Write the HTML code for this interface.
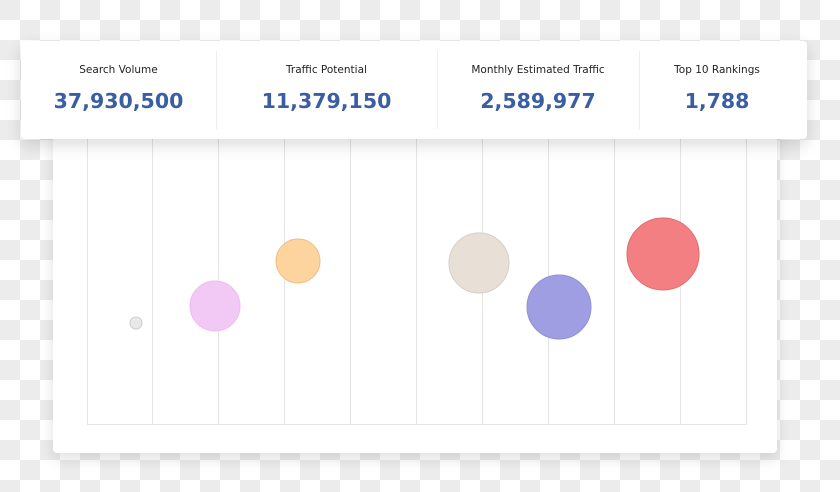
<!DOCTYPE html>
<html><head><style>
body{margin:0;width:840px;height:492px;overflow:hidden;position:relative;
background-color:#fff;
background-image:linear-gradient(45deg,#ececec 25%,transparent 25%,transparent 75%,#ececec 75%),linear-gradient(45deg,#ececec 25%,transparent 25%,transparent 75%,#ececec 75%);
background-size:40px 40px;background-position:20px 0,0 20px;
font-family:"DejaVu Sans","Liberation Sans",sans-serif;}
.chart{position:absolute;left:53px;top:120px;width:724px;height:333px;background:#fff;border-radius:4px;box-shadow:0 6px 14px rgba(0,0,0,0.12);}
.top{position:absolute;left:21px;top:41px;width:786px;height:98px;background:#fff;border-radius:4px;box-shadow:0 6px 16px rgba(0,0,0,0.14);}
.cell{position:absolute;top:0;height:98px;text-align:center;}
.lab{position:absolute;top:23px;left:0;right:0;font-size:10.5px;color:#222;}
.num{position:absolute;top:48px;left:0;right:0;font-size:20.5px;font-weight:bold;color:#3a5ea2;}
.div{position:absolute;top:10px;width:1px;height:78px;background:#eee;}
</style></head><body>
<div class="chart"></div>
<svg width="840" height="492" style="position:absolute;left:0;top:0">
<g stroke="#e4e4e4" stroke-width="1">
<line x1="87.5" y1="130" x2="87.5" y2="424"/><line x1="152.5" y1="130" x2="152.5" y2="424"/><line x1="218.5" y1="130" x2="218.5" y2="424"/><line x1="284.5" y1="130" x2="284.5" y2="424"/><line x1="350.5" y1="130" x2="350.5" y2="424"/><line x1="416.5" y1="130" x2="416.5" y2="424"/><line x1="482.5" y1="130" x2="482.5" y2="424"/><line x1="548.5" y1="130" x2="548.5" y2="424"/><line x1="614.5" y1="130" x2="614.5" y2="424"/><line x1="680.5" y1="130" x2="680.5" y2="424"/><line x1="746.5" y1="130" x2="746.5" y2="424"/>
<line x1="87" y1="424.5" x2="747" y2="424.5"/>
</g>
<circle cx="136" cy="323" r="6" fill="#e8e8e8" stroke="#ccc"/>
<circle cx="215" cy="306" r="25" fill="#f2c9f4" stroke="#ecbdee"/>
<circle cx="298" cy="261" r="22" fill="#fdd49e" stroke="#ecc08a"/>
<circle cx="479" cy="263" r="30" fill="#e8dfd6" stroke="#d8cdc2"/>
<circle cx="559" cy="307" r="32" fill="#a09ee3" stroke="#9290d6"/>
<circle cx="663" cy="254" r="36" fill="#f47f82" stroke="#e06c70"/>
</svg>
<div class="top">
<div class="cell" style="left:0;width:195px"><div class="lab">Search Volume</div><div class="num">37,930,500</div></div>
<div class="div" style="left:195px"></div>
<div class="cell" style="left:195px;width:221px"><div class="lab">Traffic Potential</div><div class="num">11,379,150</div></div>
<div class="div" style="left:416px"></div>
<div class="cell" style="left:416px;width:202px"><div class="lab">Monthly Estimated Traffic</div><div class="num">2,589,977</div></div>
<div class="div" style="left:618px"></div>
<div class="cell" style="left:618px;width:156px"><div class="lab">Top 10 Rankings</div><div class="num">1,788</div></div>
</div>
</body></html>
